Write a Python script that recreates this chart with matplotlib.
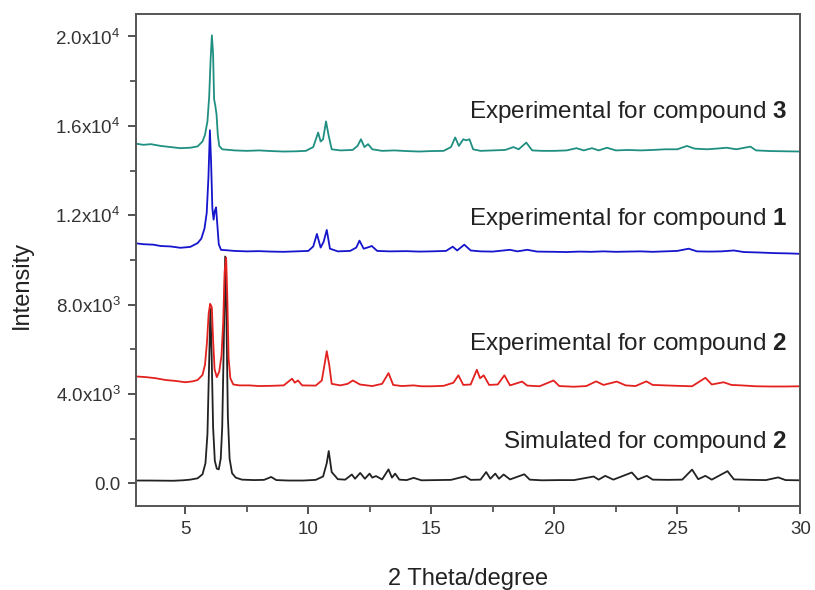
import numpy as np
import matplotlib
matplotlib.use("Agg")
import matplotlib.pyplot as plt
from matplotlib.ticker import FixedLocator, MultipleLocator

plt.rcParams["font.family"] = ["Liberation Sans", "DejaVu Sans"]
plt.rcParams["mathtext.fontset"] = "custom"
plt.rcParams["mathtext.rm"] = "Liberation Sans"
plt.rcParams["mathtext.it"] = "Liberation Sans:italic"
plt.rcParams["mathtext.bf"] = "Liberation Sans:bold"
plt.rcParams["mathtext.sf"] = "Liberation Sans"

# Powder patterns (2-theta in degrees, intensity in counts, stacked offsets included)
compound3_exp = [
    (3.0, 15200), (3.3, 15150), (3.6, 15180), (4.0, 15100), (4.4, 15050), (4.8, 15000),
    (5.2, 15020), (5.5, 15080), (5.7, 15300), (5.8, 15600), (5.9, 16200), (5.97, 17300),
    (6.03, 19000), (6.08, 20050), (6.13, 19200), (6.17, 17200), (6.22, 16900), (6.27, 16500),
    (6.32, 15600), (6.38, 15100), (6.5, 14950), (7.0, 14900), (7.5, 14880), (8.0, 14900),
    (8.5, 14870), (9.0, 14850), (9.5, 14860), (9.9, 14880), (10.2, 15050), (10.4, 15700),
    (10.5, 15300), (10.6, 15400), (10.72, 16200), (10.82, 15600), (10.95, 14950), (11.3, 14900),
    (11.8, 14920), (12.0, 15100), (12.14, 15400), (12.28, 15050), (12.43, 15180), (12.6, 14950),
    (13.0, 14880), (13.5, 14900), (14.0, 14870), (14.5, 14850), (15.0, 14870), (15.5, 14880),
    (15.8, 15050), (15.97, 15480), (16.12, 15100), (16.3, 15400), (16.42, 15350), (16.55, 15400),
    (16.7, 14950), (17.0, 14880), (17.5, 14900), (18.0, 14920), (18.34, 15050), (18.55, 14950),
    (18.86, 15250), (19.1, 14900), (19.5, 14880), (20.0, 14880), (20.5, 14900), (20.9, 15000),
    (21.2, 14900), (21.53, 15000), (21.8, 14900), (22.14, 15020), (22.5, 14900), (23.0, 14920),
    (23.5, 14900), (24.0, 14920), (24.5, 14950), (25.0, 14950), (25.39, 15100), (25.7, 14980),
    (26.2, 14950), (26.6, 14980), (27.0, 15020), (27.4, 14950), (27.97, 15070), (28.2, 14900),
    (28.8, 14870), (29.4, 14860), (30.0, 14850),
]

compound1_exp = [
    (3.0, 10740), (3.3, 10700), (3.7, 10680), (4.0, 10620), (4.4, 10600), (4.8, 10540),
    (5.2, 10580), (5.5, 10750), (5.65, 10950), (5.78, 11400), (5.87, 12100), (5.94, 13700),
    (6.0, 15800), (6.05, 14300), (6.1, 12300), (6.15, 11800), (6.2, 12200), (6.25, 12350),
    (6.3, 11600), (6.36, 10700), (6.45, 10450), (7.0, 10400), (7.5, 10380), (8.0, 10390),
    (8.5, 10370), (9.0, 10360), (9.5, 10380), (10.0, 10400), (10.2, 10600), (10.35, 11160),
    (10.5, 10550), (10.62, 10800), (10.75, 11340), (10.88, 10500), (11.2, 10380), (11.7, 10400),
    (11.95, 10550), (12.08, 10860), (12.25, 10500), (12.4, 10550), (12.58, 10620), (12.8, 10400),
    (13.3, 10380), (14.0, 10390), (14.5, 10370), (15.0, 10380), (15.6, 10400), (15.87, 10590),
    (16.05, 10420), (16.34, 10680), (16.6, 10420), (17.0, 10380), (17.5, 10370), (18.2, 10450),
    (18.5, 10380), (18.9, 10450), (19.3, 10370), (20.0, 10360), (20.5, 10350), (21.0, 10370),
    (21.5, 10360), (22.0, 10380), (22.5, 10360), (23.0, 10370), (23.5, 10380), (24.0, 10360),
    (24.5, 10380), (25.0, 10400), (25.46, 10500), (25.8, 10380), (26.3, 10370), (26.8, 10380),
    (27.3, 10420), (27.7, 10350), (28.3, 10330), (29.0, 10300), (29.5, 10290), (30.0, 10270),
]

compound2_exp = [
    (3.0, 4780), (3.4, 4750), (3.8, 4700), (4.2, 4620), (4.6, 4580), (5.0, 4520),
    (5.3, 4560), (5.5, 4620), (5.7, 4850), (5.8, 5300), (5.88, 6300), (5.95, 7600),
    (6.01, 8030), (6.05, 7950), (6.08, 7850), (6.13, 6400), (6.19, 5100), (6.28, 4750),
    (6.38, 5000), (6.47, 5700), (6.54, 7200), (6.6, 9500), (6.66, 10100), (6.71, 8200),
    (6.76, 5600), (6.83, 4700), (6.95, 4420), (7.2, 4380), (7.6, 4380), (8.0, 4350),
    (8.5, 4360), (9.0, 4380), (9.34, 4680), (9.45, 4500), (9.58, 4600), (9.75, 4380),
    (10.3, 4370), (10.55, 4600), (10.75, 5910), (10.85, 5300), (10.95, 4450), (11.3, 4380),
    (11.6, 4450), (11.81, 4600), (12.1, 4420), (12.6, 4350), (13.0, 4450), (13.26, 4930),
    (13.45, 4400), (13.8, 4350), (14.28, 4380), (14.6, 4340), (15.0, 4340), (15.5, 4360),
    (15.9, 4500), (16.1, 4830), (16.3, 4400), (16.6, 4420), (16.85, 5080), (16.98, 4700),
    (17.13, 4830), (17.35, 4400), (17.7, 4420), (17.97, 4830), (18.2, 4380), (18.69, 4550),
    (18.9, 4370), (19.4, 4340), (19.97, 4600), (20.2, 4350), (20.8, 4320), (21.3, 4350),
    (21.7, 4560), (22.0, 4400), (22.54, 4550), (22.9, 4380), (23.3, 4350), (23.74, 4560),
    (24.0, 4400), (24.5, 4380), (25.0, 4360), (25.6, 4340), (26.14, 4720), (26.4, 4420),
    (26.88, 4520), (27.2, 4400), (27.6, 4380), (28.2, 4340), (28.8, 4330), (29.4, 4330),
    (30.0, 4340),
]

compound2_sim = [
    (3.0, 120), (3.5, 120), (4.0, 115), (4.5, 110), (4.9, 130), (5.2, 160),
    (5.5, 220), (5.7, 400), (5.82, 900), (5.9, 2200), (5.96, 5000), (6.02, 7800),
    (6.07, 5800), (6.13, 2500), (6.2, 1000), (6.28, 650), (6.36, 620), (6.44, 1100),
    (6.5, 2500), (6.56, 6000), (6.62, 10150), (6.67, 7500), (6.73, 3000), (6.8, 1100),
    (6.9, 450), (7.05, 250), (7.3, 160), (7.8, 140), (8.2, 150), (8.49, 280),
    (8.7, 140), (9.2, 120), (9.8, 120), (10.3, 150), (10.6, 300), (10.75, 900),
    (10.83, 1440), (10.95, 500), (11.2, 180), (11.5, 160), (11.77, 390), (11.9, 200),
    (12.11, 460), (12.3, 200), (12.49, 430), (12.6, 250), (12.75, 320), (13.0, 170),
    (13.26, 620), (13.4, 250), (13.53, 430), (13.7, 160), (14.0, 140), (14.28, 240),
    (14.6, 130), (15.2, 140), (15.8, 150), (16.38, 310), (16.6, 150), (17.0, 160),
    (17.23, 500), (17.4, 200), (17.6, 430), (17.75, 200), (17.94, 390), (18.2, 170),
    (18.78, 400), (19.0, 160), (19.5, 130), (20.2, 140), (20.8, 140), (21.6, 300),
    (21.8, 160), (22.07, 330), (22.4, 160), (23.15, 480), (23.4, 170), (23.76, 330),
    (24.0, 160), (24.6, 150), (25.2, 160), (25.6, 610), (25.85, 180), (26.14, 330),
    (26.4, 160), (27.04, 540), (27.3, 170), (28.0, 150), (28.6, 140), (29.1, 260),
    (29.4, 140), (30.0, 130),
]

series_labels = [
    r"Experimental for compound $\mathbf{3}$",
    r"Experimental for compound $\mathbf{1}$",
    r"Experimental for compound $\mathbf{2}$",
    r"Simulated for compound $\mathbf{2}$",
]
label_heights = [16600, 11850, 6250, 1850]

y_ticks = [0, 4000, 8000, 12000, 16000, 20000]
y_tick_labels = ["0.0", r"4.0x10$^{3}$", r"8.0x10$^{3}$", r"1.2x10$^{4}$",
                 r"1.6x10$^{4}$", r"2.0x10$^{4}$"]
x_ticks = [5, 10, 15, 20, 25, 30]

colors = {"c3": "#1f8f82", "c1": "#1515cc", "c2": "#e3211f", "sim": "#222222"}

fig = plt.figure(figsize=(8.15, 5.90), dpi=100)
ax = fig.add_axes([0.167, 0.142, 0.815, 0.834])

for pts, col in [(compound2_sim, colors["sim"]), (compound2_exp, colors["c2"]),
                 (compound1_exp, colors["c1"]), (compound3_exp, colors["c3"])]:
    arr = np.array(pts, dtype=float)
    ax.plot(arr[:, 0], arr[:, 1], color=col, lw=1.3, solid_joinstyle="round")

for text, yv in zip(series_labels, label_heights):
    ax.text(29.45, yv, text, ha="right", va="center", fontsize=17.5, color="#222222")

ax.set_xlim(3, 30)
ax.set_ylim(-1030, 21000)
ax.xaxis.set_major_locator(FixedLocator(x_ticks))
ax.xaxis.set_minor_locator(MultipleLocator(2.5))
ax.yaxis.set_major_locator(FixedLocator(y_ticks))
ax.set_yticklabels(y_tick_labels)
ax.yaxis.set_minor_locator(MultipleLocator(2000))

ax.tick_params(which="major", direction="out", length=6, width=1.3,
               colors="#444444", labelcolor="#333333", labelsize=13.5, pad=5)
ax.tick_params(which="minor", direction="out", length=4, width=1.2, colors="#444444")
for sp in ax.spines.values():
    sp.set_color("#555555")
    sp.set_linewidth(1.4)

ax.set_xlabel("2 Theta/degree", fontsize=17, color="#222222")
ax.set_ylabel("Intensity", fontsize=17, color="#222222")
ax.xaxis.set_label_coords(0.50, -0.125)
ax.yaxis.set_label_coords(-0.156, 0.45)

fig.savefig("out.png", dpi=100)
